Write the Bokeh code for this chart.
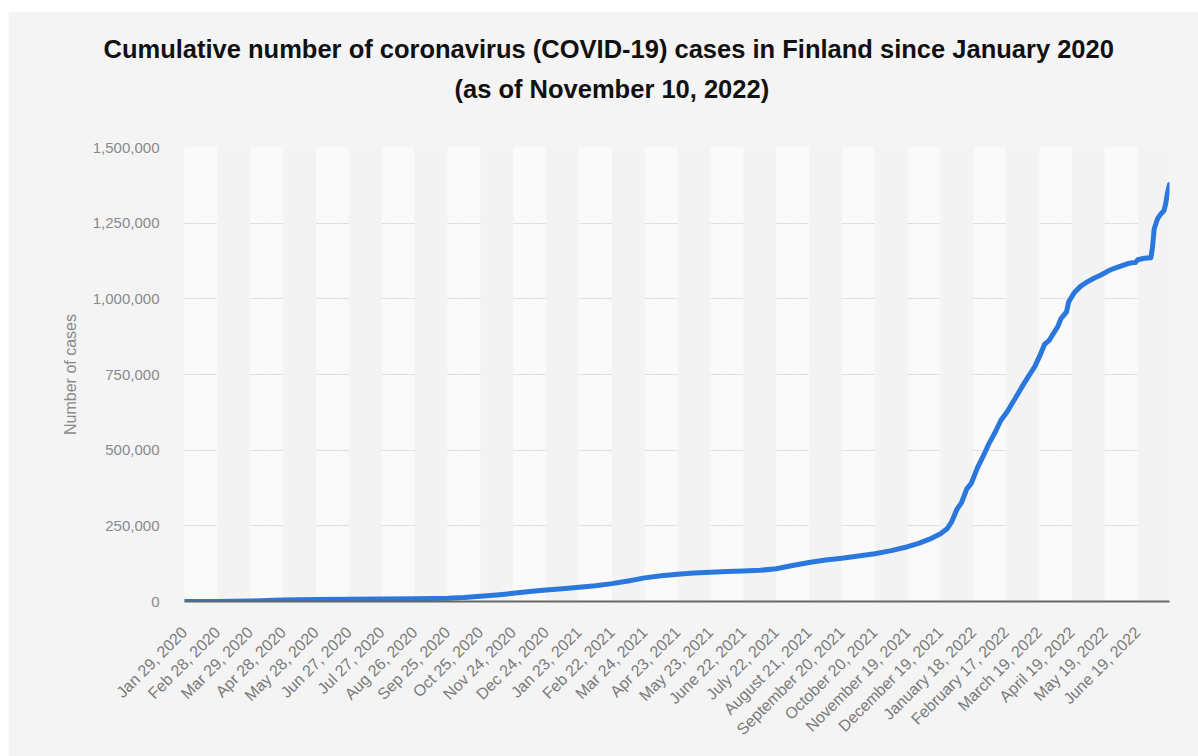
from bokeh.plotting import figure
from bokeh.models import (Range1d, FixedTicker, NumeralTickFormatter, Title, ColumnDataSource)
from bokeh.embed import file_html
from bokeh.resources import INLINE
from math import pi

# ---- data (days since Jan 29, 2020 -> cumulative cases) ----
days = [0, 30, 45, 60, 75, 90, 120, 150, 180, 210, 240, 255, 270, 285, 300, 315, 330, 345,
        360, 375, 390, 405, 420, 435, 450, 465, 480, 495, 510, 525, 540, 555, 570, 585, 600,
        615, 630, 645, 660, 670, 680, 690, 696, 700, 705, 709, 714, 718, 724, 730, 734, 740,
        745, 751, 757, 762, 766, 771, 776, 781, 785, 789, 793, 797, 800, 803, 805, 807, 812,
        818, 824, 830, 836, 842, 848, 855, 860, 864, 868, 870, 876, 882, 883.5, 885, 888,
        891, 894, 895.5, 897, 899]
cases = [0, 100, 500, 1500, 3500, 5000, 6800, 7500, 8000, 8800, 10500, 13000, 17000, 21500,
         27000, 33000, 38000, 42000, 47000, 52000, 59000, 68000, 78000, 85000, 90000, 94000,
         97000, 99000, 100500, 103000, 108000, 119000, 129000, 137000, 143000, 150000, 158000,
         168000, 181000, 192000, 206000, 224000, 240000, 262000, 305000, 325000, 372000,
         390000, 444000, 488000, 520000, 560000, 598000, 628000, 664000, 695000, 719000,
         748000, 776000, 815000, 850000, 862000, 885000, 908000, 935000, 948000, 957000,
         990000, 1020000, 1042000, 1056000, 1068000, 1078000, 1090000, 1100000, 1109000,
         1115000, 1119000, 1120000, 1129000, 1134000, 1136000, 1170000, 1231000, 1264000,
         1280000, 1292000, 1314000, 1347000, 1378000]

tick_days = [0, 30, 60, 90, 120, 150, 180, 210, 240, 270, 300, 330, 360, 390, 420, 450, 480,
             510, 540, 570, 600, 630, 660, 690, 720, 750, 780, 810, 840, 870]
tick_labels = ["Jan 29, 2020", "Feb 28, 2020", "Mar 29, 2020", "Apr 28, 2020", "May 28, 2020",
               "Jun 27, 2020", "Jul 27, 2020", "Aug 26, 2020", "Sep 25, 2020", "Oct 25, 2020",
               "Nov 24, 2020", "Dec 24, 2020", "Jan 23, 2021", "Feb 22, 2021", "Mar 24, 2021",
               "Apr 23, 2021", "May 23, 2021", "June 22, 2021", "July 22, 2021",
               "August 21, 2021", "September 20, 2021", "October 20, 2021",
               "November 19, 2021", "December 19, 2021", "January 18, 2022",
               "February 17, 2022", "March 19, 2022", "April 19, 2022", "May 19, 2022",
               "June 19, 2022"]
y_ticks = [0, 250000, 500000, 750000, 1000000, 1250000, 1500000]

title1 = "Cumulative number of coronavirus (COVID-19) cases in Finland since January 2020"
title2 = "(as of November 10, 2022)"
y_label = "Number of cases"

X_END = days[-1]
Y_END = y_ticks[-1]

BG = "#f4f4f4"
FONT = "Liberation Sans"

p = figure(width=1190, height=745, output_backend="svg", toolbar_location=None,
           x_range=Range1d(0, X_END), y_range=Range1d(0, Y_END),
           min_border_left=176, min_border_right=29, min_border_bottom=155,
           min_border_top=136,
           background_fill_color="#fafafa", border_fill_color=BG, outline_line_color=None)
p.margin = (11, 0, 0, 8)
p.title = None

# titles (added nearest-first); first one is an empty spacer line
p.add_layout(Title(text=" ", align="center", text_font=FONT, text_font_size="25.5px",
                   text_font_style="bold", text_color=BG), "above")
p.add_layout(Title(text=title2, align="left", text_font=FONT, text_font_size="25.5px",
                   text_font_style="bold", text_color="#111111", offset=270), "above")
p.add_layout(Title(text=title1, align="left", text_font=FONT, text_font_size="25.5px",
                   text_font_style="bold", text_color="#111111", offset=-81), "above")

# alternating bands (odd intervals darker)
band_left = tick_days[1::2]
band_right = [min(b + 30, X_END) for b in band_left]
p.quad(left=band_left, right=band_right, bottom=0, top=Y_END,
       fill_color="#f3f3f3", line_color=None)

# grid
p.xgrid.grid_line_color = None
p.ygrid.ticker = FixedTicker(ticks=y_ticks)
p.ygrid.grid_line_color = "#d4d4d4"
p.ygrid.grid_line_dash = "2 1"
p.ygrid.grid_line_width = 1

# line
src = ColumnDataSource(dict(x=days, y=cases))
p.line("x", "y", source=src, line_color="#2a78de", line_width=5, line_join="round",
       line_cap="round")

# x axis
xa = p.xaxis[0]
xa.ticker = FixedTicker(ticks=tick_days)
xa.major_label_overrides = {d: l for d, l in zip(tick_days, tick_labels)}
xa.major_label_orientation = pi / 4
xa.major_label_text_font = FONT
xa.major_label_text_font_size = "16px"
xa.major_label_text_color = "#7a7a7a"
xa.major_label_standoff = 22
xa.major_tick_line_color = None
xa.minor_tick_line_color = None
xa.axis_line_color = "#666666"
xa.axis_line_width = 2

# y axis
ya = p.yaxis[0]
ya.ticker = FixedTicker(ticks=y_ticks)
ya.formatter = NumeralTickFormatter(format="0,0")
ya.major_label_text_font = FONT
ya.major_label_text_font_size = "15px"
ya.major_label_text_color = "#8a8a8a"
ya.major_label_standoff = 19
ya.major_tick_line_color = None
ya.minor_tick_line_color = None
ya.axis_line_color = None
ya.axis_label = y_label
ya.axis_label_text_font = FONT
ya.axis_label_text_font_size = "16px"
ya.axis_label_text_font_style = "normal"
ya.axis_label_text_color = "#8a8a8a"
ya.axis_label_standoff = 11

open("out.html", "w").write(file_html(p, INLINE))
